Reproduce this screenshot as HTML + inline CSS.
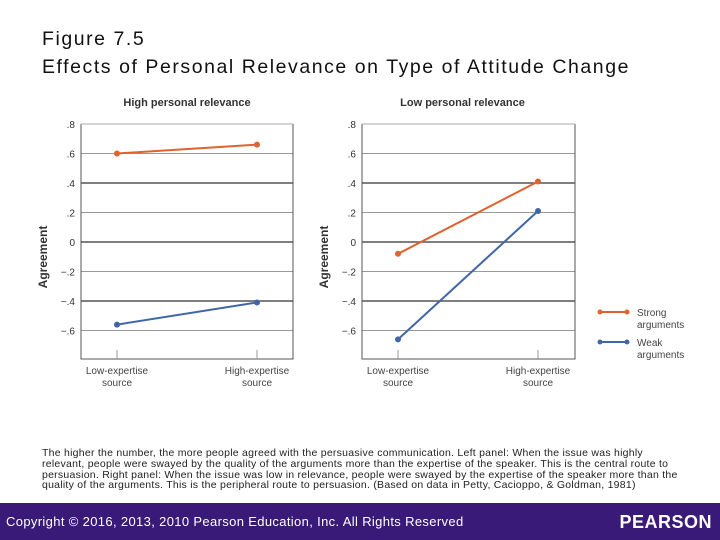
<!DOCTYPE html>
<html><head><meta charset="utf-8"><style>
body{margin:0;width:720px;height:540px;background:#fff;position:relative;overflow:hidden;font-family:"Liberation Sans",sans-serif}
#title{position:absolute;left:42px;top:25px;font-size:19.5px;line-height:28px;color:#111;letter-spacing:1.55px}
#caption{position:absolute;left:42px;top:448px;width:660px;font-size:10.5px;line-height:10.8px;color:#222;letter-spacing:0.25px;white-space:nowrap}
#footer{position:absolute;left:0;top:503px;width:720px;height:37px;background:#3a1a78;color:#fff}
#copy{position:absolute;left:6px;top:11px;font-size:13px;letter-spacing:0.35px}
#logo{position:absolute;right:8px;top:9px;font-size:18px;font-weight:bold;letter-spacing:0.5px}
svg{position:absolute;left:0;top:0}
</style></head><body>
<div id="title">Figure 7.5<br>Effects of Personal Relevance on Type of Attitude Change</div>
<svg id="chart" width="720" height="440"></svg>
<div id="caption">The higher the number, the more people agreed with the persuasive communication. Left panel: When the issue was highly<br>relevant, people were swayed by the quality of the arguments more than the expertise of the speaker. This is the central route to<br>persuasion. Right panel: When the issue was low in relevance, people were swayed by the expertise of the speaker more than the<br>quality of the arguments. This is the peripheral route to persuasion. (Based on data in Petty, Cacioppo, &amp; Goldman, 1981)</div>
<div id="footer"><div id="copy">Copyright © 2016, 2013, 2010 Pearson Education, Inc. All Rights Reserved</div><div id="logo">PEARSON</div></div>
<script>
const categories=["Low-expertise|source","High-expertise|source"];
const yTicks=[0.8,0.6,0.4,0.2,0,-0.2,-0.4,-0.6];
const yTickLabels=[".8",".6",".4",".2","0","\u2212.2","\u2212.4","\u2212.6"];
const highStrong=[0.60,0.66];
const highWeak=[-0.56,-0.41];
const lowStrong=[-0.08,0.41];
const lowWeak=[-0.66,0.21];
const NS="http://www.w3.org/2000/svg";
const svg=document.getElementById('chart');
function mk(t,a,p){const e=document.createElementNS(NS,t);for(const k in a)e.setAttribute(k,a[k]);(p||svg).appendChild(e);return e;}
const y=v=>242-(v)*147.5;
const panels=[
 {name:'high',title:'High personal relevance',x0:81,x1:293,cx:[117,257],s:highStrong,w:highWeak,ylab:43},
 {name:'low',title:'Low personal relevance',x0:362,x1:575,cx:[398,538],s:lowStrong,w:lowWeak,ylab:324}];
panels.forEach(p=>{
 const g=mk('g',{});
 
 
 const t=mk('text',{x:(p.x0+p.x1)/2-(p.name=='high'?0:6),y:106,'text-anchor':'middle','font-size':11,'font-weight':'bold',fill:'#333'},g);t.textContent=p.title;
 
 
 yTicks.forEach((v,i)=>{
  const dark=(Math.abs(v-0.4)<1e-6||v===0||Math.abs(v+0.4)<1e-6);
  if(v!==0.8){const l=mk('line',{x1:p.x0,x2:p.x1,y1:y(v),y2:y(v),stroke:dark?'#555':'#999','stroke-width':dark?1.6:1},g);
  
  }
  const tx=mk('text',{x:p.x0-6,y:y(v)+4,'text-anchor':'end','font-size':10,fill:'#333'},g);tx.textContent=yTickLabels[i];
  
  
 });
 mk('path',{d:`M${p.x0} ${y(0.8)} V359 H${p.x1} V${y(0.8)}`,fill:'none',stroke:'#555','stroke-width':1},g);
 mk('line',{x1:p.x0,x2:p.x1,y1:y(0.8),y2:y(0.8),stroke:'#aaa'},g);
 const yl=mk('text',{x:p.ylab+4,y:257,'font-size':12,'font-weight':'bold',fill:'#333',transform:`rotate(-90 ${p.ylab+4} 257)`,'text-anchor':'middle'},g);yl.textContent='Agreement';
 
 
 categories.forEach((c,i)=>{
  mk('line',{x1:p.cx[i],x2:p.cx[i],y1:350,y2:359,stroke:'#999'},g);
  c.split('|').forEach((s,j)=>{const tt=mk('text',{x:p.cx[i],y:374+j*12,'text-anchor':'middle','font-size':10,fill:'#444'},g);tt.textContent=s;
  
  });
 });
 [[p.s,'#e0622e','strong'],[p.w,'#4166a8','weak']].forEach(([d,col,n])=>{
  const pl=mk('polyline',{points:d.map((v,i)=>p.cx[i]+','+y(v)).join(' '),fill:'none',stroke:col,'stroke-width':2},g);
  
  
  d.forEach((v,i)=>{const c=mk('circle',{cx:p.cx[i],cy:y(v),r:3,fill:col},g);
  
  });
 });
});
[['Strong','#e0622e',312],['Weak','#4166a8',342]].forEach(([n,col,yy])=>{
 const g=mk('g',{});
 
 
 mk('line',{x1:600,x2:627,y1:yy,y2:yy,stroke:col,'stroke-width':2},g);
 mk('circle',{cx:600,cy:yy,r:2.5,fill:col},g);mk('circle',{cx:627,cy:yy,r:2.5,fill:col},g);
 const t1=mk('text',{x:637,y:yy+4,'font-size':10,fill:'#444'},g);t1.textContent=n;
 const t2=mk('text',{x:637,y:yy+16,'font-size':10,fill:'#444'},g);t2.textContent='arguments';
});
</script>
</body></html>
